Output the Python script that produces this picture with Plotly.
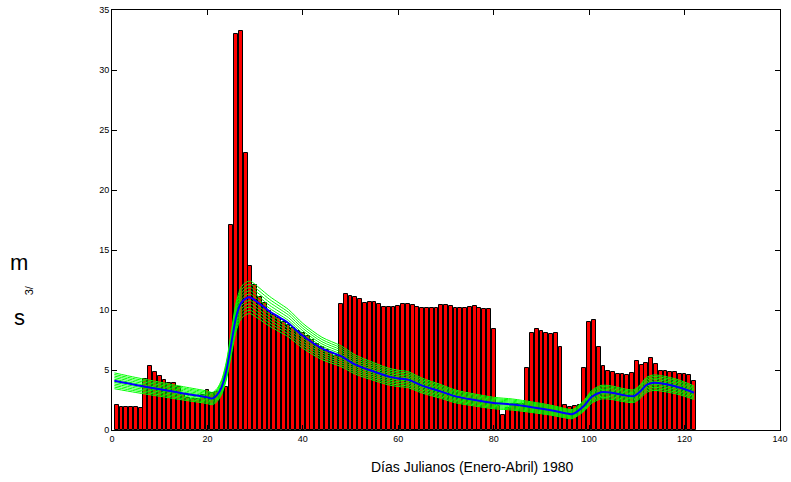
import plotly.graph_objects as go

# Daily observed discharge (m3/s), days 1..122
days = list(range(1, 123))
observed = [
    2.05, 1.95, 1.95, 1.95, 1.9, 1.8, 4.25, 5.3, 4.85, 4.5,   # 1-10
    4.2, 3.9, 3.9, 3.6, 3.0, 2.7, 2.6, 2.6, 2.9, 3.3,         # 11-20
    3.05, 3.2, 3.4, 3.6, 17.1, 33.0, 33.25, 23.1, 13.65, 12.1, # 21-30
    11.1, 10.6, 9.9, 9.6, 9.3, 9.0, 8.75, 8.5, 8.25, 8.05,    # 31-40
    7.8, 7.5, 7.2, 6.9, 6.7, 6.4, 6.2, 10.47, 11.33, 11.17,   # 41-50
    11.1, 10.9, 10.6, 10.64, 10.64, 10.47, 10.28, 10.28, 10.28, 10.33,  # 51-60
    10.5, 10.5, 10.4, 10.28, 10.17, 10.17, 10.17, 10.17, 10.44, 10.44,  # 61-70
    10.33, 10.17, 10.17, 10.17, 10.28, 10.33, 10.17, 10.06, 10.06, 8.4,  # 71-80
    2.0, 1.25, 1.8, 2.2, 2.2, 2.2, 5.14, 8.1, 8.4, 8.28,      # 81-90
    8.05, 8.0, 8.1, 6.94, 2.08, 1.94, 2.0, 2.08, 5.2, 8.97,   # 91-100
    9.2, 6.94, 5.36, 4.9, 4.8, 4.67, 4.64, 4.58, 4.72, 5.75,  # 101-110
    5.42, 5.6, 5.97, 5.47, 4.94, 4.92, 4.86, 4.83, 4.67, 4.64,  # 111-120
    4.58, 4.08,                                                # 121-122
]

# Simulated discharge (blue line), read at selected days
sim_days = [0.5, 5, 10, 15, 20, 21, 22, 23, 24, 25, 26, 27, 28, 29, 30, 31, 33, 35, 37,
            40, 44, 48, 51, 55, 58, 60, 62, 65, 69, 72, 76, 80, 84, 88, 92, 95, 96.5,
            99, 100.5, 102.5, 104.5, 107, 109.3, 110.7, 112, 113.5, 115, 118, 120.5, 122]
sim_values = [4.1, 3.75, 3.4, 3.05, 2.72, 2.62, 2.9, 3.6, 5.0, 7.2, 9.4, 10.55, 10.95, 11.05,
              10.8, 10.5, 9.9, 9.4, 8.9, 7.85, 6.8, 6.15, 5.45, 4.85, 4.45, 4.3, 4.2, 3.7,
              3.2, 2.8, 2.5, 2.25, 2.12, 1.9, 1.65, 1.4, 1.33, 2.05, 2.75, 3.15, 3.12, 2.92,
              2.82, 3.2, 3.75, 3.94, 3.89, 3.65, 3.33, 3.1]

# Ensemble members (green lines): relative position within the band
ensemble_positions = [-1.0, -0.8, -0.6, -0.4, -0.2, 0.0, 0.2, 0.4, 0.6, 0.8, 1.0]
band_abs = 0.25   # absolute half-width of the band (m3/s)
band_rel = 0.10   # relative half-width of the band

x_ticks = [0, 20, 40, 60, 80, 100, 120, 140]
y_ticks = [0, 5, 10, 15, 20, 25, 30, 35]

fig = go.Figure()

fig.add_trace(go.Bar(
    x=days, y=observed, width=0.8,
    marker=dict(color="#ff0000", line=dict(color="#000000", width=1)),
    showlegend=False,
))

for k in ensemble_positions:
    member = [v + k * (band_abs + band_rel * v) for v in sim_values]
    fig.add_trace(go.Scatter(
        x=sim_days, y=member, mode="lines",
        line=dict(color="#00ff00", width=1, shape="spline", smoothing=0.8),
        showlegend=False,
    ))

fig.add_trace(go.Scatter(
    x=sim_days, y=sim_values, mode="lines",
    line=dict(color="#0000ff", width=2, shape="spline", smoothing=0.8),
    showlegend=False,
))

axis_common = dict(
    showline=True, linecolor="black", linewidth=1, mirror="ticks",
    ticks="inside", ticklen=5, tickcolor="black", tickwidth=1,
    showgrid=False, zeroline=False, automargin=False,
    tickfont=dict(family="Liberation Sans, Arial, sans-serif", size=9, color="black"),
)

fig.update_layout(
    width=791, height=482, autosize=False,
    margin=dict(l=112, r=11, t=10, b=52, pad=0, autoexpand=False),
    paper_bgcolor="white", plot_bgcolor="white",
    bargap=0,
    xaxis=dict(range=[0, 140], tickvals=x_ticks, ticktext=[str(t) for t in x_ticks], **axis_common),
    yaxis=dict(range=[0, 35], tickvals=y_ticks, ticktext=[str(t) for t in y_ticks], **axis_common),
    font=dict(family="Liberation Sans, Arial, sans-serif", color="black"),
    annotations=[
        dict(text="Días Julianos (Enero-Abril) 1980", xref="paper", yref="paper",
             x=0.539, y=-0.088, showarrow=False, font=dict(size=14),
             xanchor="center", yanchor="middle"),
        dict(text="m", xref="paper", yref="paper", x=-0.1387, y=0.40, showarrow=False,
             font=dict(size=22), xanchor="center", yanchor="middle"),
        dict(text="3/", xref="paper", yref="paper", x=-0.124, y=0.333, showarrow=False,
             font=dict(size=11), xanchor="center", yanchor="middle", textangle=-90),
        dict(text="s", xref="paper", yref="paper", x=-0.1387, y=0.267, showarrow=False,
             font=dict(size=22), xanchor="center", yanchor="middle"),
    ],
)

fig.write_html("out.html")
